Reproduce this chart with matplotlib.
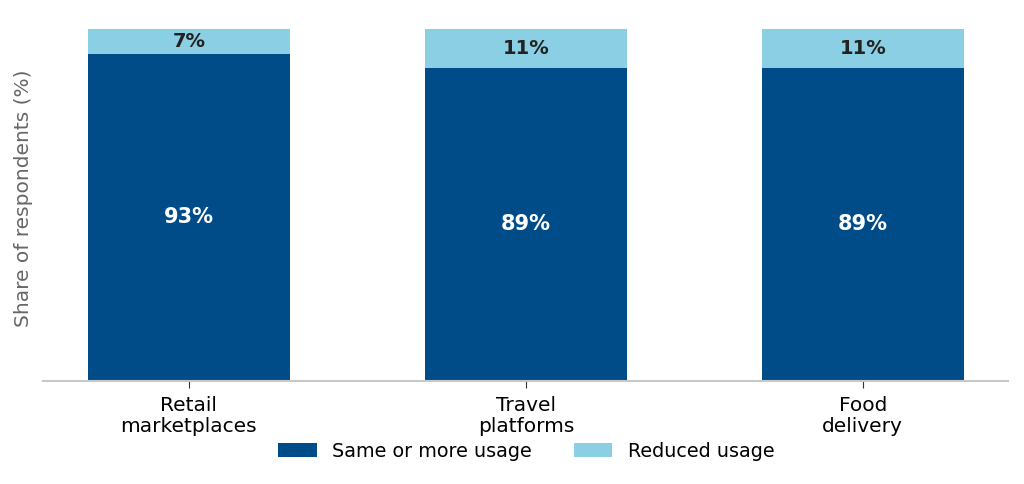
import matplotlib
matplotlib.use("Agg")
import matplotlib.pyplot as plt
import numpy as np

categories = ["Retail\nmarketplaces", "Travel\nplatforms", "Food\ndelivery"]
same_or_more = [93, 89, 89]
reduced = [7, 11, 11]

DARK = "#004C89"
LIGHT = "#8BCFE5"


def main() -> None:
    fig = plt.figure(figsize=(10.24, 4.84), dpi=100)
    ax = fig.add_axes([0.042, 0.213, 0.942, 0.727])

    x = np.arange(len(categories))
    b1 = ax.bar(x, same_or_more, width=0.6, color=DARK, label="Same or more usage")
    b2 = ax.bar(x, reduced, width=0.6, bottom=same_or_more, color=LIGHT,
                label="Reduced usage")

    for rect, v in zip(b1, same_or_more):
        ax.text(rect.get_x() + rect.get_width() / 2, v / 2, f"{v}%",
                ha="center", va="center", color="white", fontsize=15,
                fontweight="bold")
    for rect, base, v in zip(b2, same_or_more, reduced):
        ax.text(rect.get_x() + rect.get_width() / 2, base + v / 2, f"{v}%",
                ha="center", va="center", color="#222222", fontsize=14,
                fontweight="bold")

    ax.set_xlim(-0.433, 2.43)
    ax.set_ylim(0, 100)
    ax.set_xticks(x)
    ax.set_xticklabels(categories, fontsize=14.5, linespacing=1.15)
    ax.set_yticks([])
    ax.set_ylabel("Share of respondents (%)", fontsize=14.5, color="#666666")
    ax.yaxis.set_label_coords(-0.010, 0.52)
    for side in ("left", "right", "top"):
        ax.spines[side].set_visible(False)
    ax.spines["bottom"].set_color("#c8c8c8")
    ax.spines["bottom"].set_linewidth(1.5)
    ax.tick_params(axis="x", length=5, color="#333333", pad=6)

    fig.legend(loc="center", bbox_to_anchor=(0.514, 0.068), ncol=2,
               frameon=False, fontsize=13.8, handlelength=2.0,
               handleheight=0.75, columnspacing=2.2)

    fig.savefig("out.png", dpi=100)


if __name__ == "__main__":
    main()
